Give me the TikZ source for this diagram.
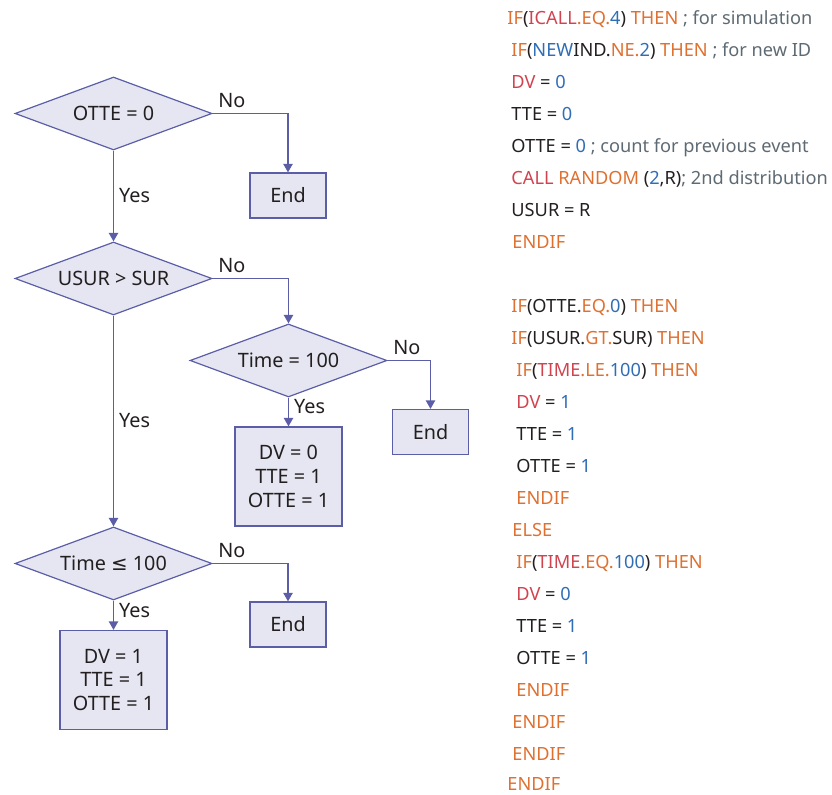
\documentclass[tikz,border=0pt]{standalone}
\usepackage{fontspec}
\setmainfont{Noto Sans}
\newfontfamily\symbfont{DejaVu Sans}
\usetikzlibrary{shapes.geometric,arrows.meta}
\definecolor{flowline}{HTML}{5B5EA6}
\definecolor{flowfill}{HTML}{E5E6F1}
\definecolor{txt}{HTML}{231F20}
\definecolor{kwcol}{HTML}{E0702F}
\definecolor{varcol}{HTML}{D0434F}
\definecolor{numcol}{HTML}{2F6DB5}
\definecolor{comcol}{HTML}{5E6A73}
\newcommand{\ckw}[1]{\textcolor{kwcol}{#1}}
\newcommand{\cvar}[1]{\textcolor{varcol}{#1}}
\newcommand{\cnum}[1]{\textcolor{numcol}{#1}}
\newcommand{\ccom}[1]{\textcolor{comcol}{#1}}
\newcommand{\flowfont}{\fontsize{9.9}{11.8}\selectfont}
\newcommand{\codefont}{\fontsize{9.1}{11}\selectfont}
\tikzset{
decision/.style = {draw=flowline, fill=flowfill, diamond, shape aspect=2.7, inner sep=0pt,
    minimum width=98.5pt, minimum height=36.5pt, line width=0.6pt, text=txt, font=\flowfont},
block/.style = {draw=flowline, fill=flowfill, rectangle, align=center, line width=0.6pt,
    minimum width=38pt, minimum height=22.5pt, text=txt, font=\flowfont},
setbox/.style = {block, minimum width=53.5pt, minimum height=49.5pt},
line/.style = {draw=flowline, line width=0.7pt, -{Triangle[width=4.6pt,length=4.2pt]}},
tag/.style = {text=txt, font=\flowfont, inner sep=2.5pt},
code/.style = {anchor=base west, inner sep=0pt, text=txt, font=\codefont}
}
\begin{document}
\begin{tikzpicture}[x=0.5pt, y=-0.5pt]
    \useasboundingbox (0,0) rectangle (832,795);
    % We start by placing the blocks
    \node [decision] at (113.5,113.5) (d1) {OTTE = 0};
    \node [decision, below of=d1, node distance=82.5pt] (d2) {USUR > SUR};
    \node [decision] at (288.5,360.5) (d3) {Time = 100};
    \node [decision, below of=d2, node distance=142.5pt] (d4) {Time {\symbfont ≤} 100};
    \node [block] at (288,195.5) (end1) {End};
    \node [block] at (430.5,432) (end2) {End};
    \node [block] at (288,624.5) (end3) {End};
    \node [setbox] at (288.5,476.5) (set1) {DV = 0\\TTE = 1\\OTTE = 1};
    \node [setbox] at (113.5,680) (set2) {DV = 1\\TTE = 1\\OTTE = 1};

    % Once the nodes are placed, connecting them is easy.
    \draw [line] (d1.east) -| node [tag, pos=0, above right] {No} (end1);
    \draw [line] (d1) -- node [tag, right] {Yes} (d2);
    \draw [line] (d2.east) -| node [tag, pos=0, above right] {No} (d3);
    \draw [line] (d2) -- node [tag, right] {Yes} (d4);
    \draw [line] (d3.east) -| node [tag, pos=0, above right] {No} (end2);
    \draw [line] (d3) -- node [tag, right, pos=0.3] {Yes} (set1);
    \draw [line] (d4.east) -| node [tag, pos=0, above right] {No} (end3);
    \draw [line] (d4) -- node [tag, right, pos=0.35] {Yes} (set2);

    % the code listing on the right
    \node [code] at (507,25) (c1) {\ckw{IF}(\cvar{ICALL}\ckw{.EQ.}\cnum{4}) \ckw{THEN} \ccom{; for simulation}};
    \node [code] at (511,57) (c2) {\ckw{IF}(\cnum{NEW}IND.\ckw{NE.}\cnum{2}) \ckw{THEN} \ccom{; for new ID}};
    \node [code] at (511,89) (c3) {\cvar{DV} = \cnum{0}};
    \node [code] at (511,121) (c4) {TTE = \cnum{0}};
    \node [code] at (511,153) (c5) {OTTE = \cnum{0} \ccom{; count for previous event}};
    \node [code] at (511,185) (c6) {\cvar{CALL} \ckw{RANDOM} (\cnum{2},R)\ccom{; 2nd distribution}};
    \node [code] at (511,217) (c7) {USUR = R};
    \node [code] at (512,249) (c8) {\ckw{ENDIF}};
    \node [code] at (511,313) (c9) {\ckw{IF}(OTTE.\ckw{EQ.}\cnum{0}) \ckw{THEN}};
    \node [code] at (511,345) (c10) {\ckw{IF}(USUR.\ckw{GT.}SUR) \ckw{THEN}};
    \node [code] at (516,377) (c11) {\ckw{IF}(\cvar{TIME}\ckw{.LE.}\cnum{100}) \ckw{THEN}};
    \node [code] at (516,409) (c12) {\cvar{DV} = \cnum{1}};
    \node [code] at (516,441) (c13) {TTE = \cnum{1}};
    \node [code] at (516,473) (c14) {OTTE = \cnum{1}};
    \node [code] at (516,505) (c15) {\ckw{ENDIF}};
    \node [code] at (512,537) (c16) {\ckw{ELSE}};
    \node [code] at (516,569) (c17) {\ckw{IF}(\cvar{TIME}\ckw{.EQ.}\cnum{100}) \ckw{THEN}};
    \node [code] at (516,601) (c18) {\cvar{DV} = \cnum{0}};
    \node [code] at (516,633) (c19) {TTE = \cnum{1}};
    \node [code] at (516,665) (c20) {OTTE = \cnum{1}};
    \node [code] at (516,697) (c21) {\ckw{ENDIF}};
    \node [code] at (512,729) (c22) {\ckw{ENDIF}};
    \node [code] at (512,761) (c23) {\ckw{ENDIF}};
    \node [code] at (507,791) (c24) {\ckw{ENDIF}};
\end{tikzpicture}
\end{document}
